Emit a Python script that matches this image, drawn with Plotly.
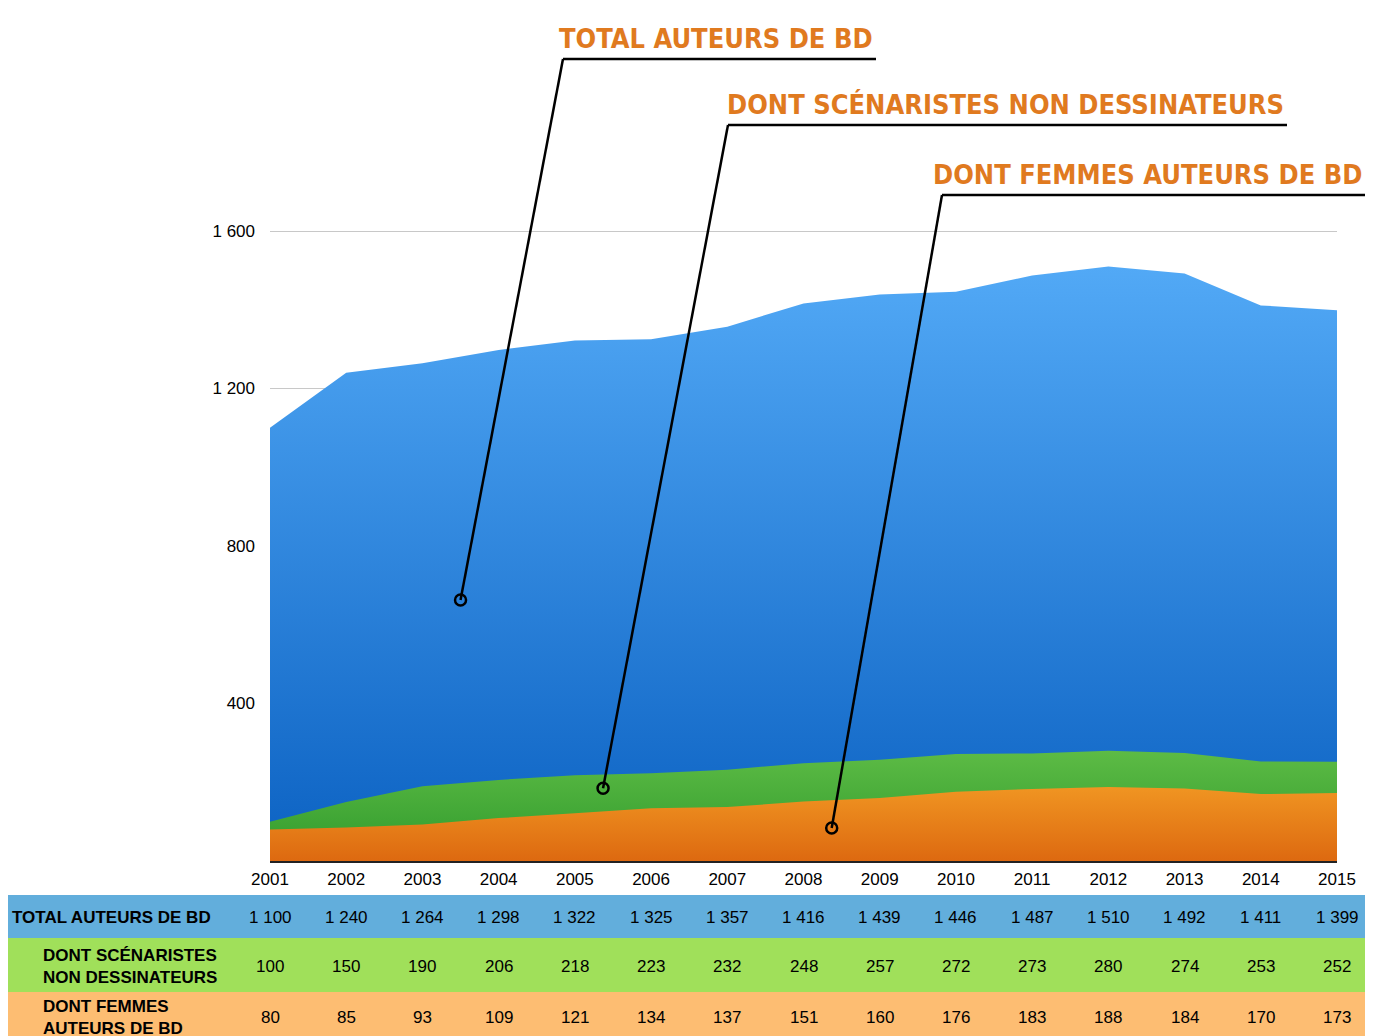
import plotly.graph_objects as go

years = list(range(2001, 2016))
total_auteurs = [1100, 1240, 1264, 1298, 1322, 1325, 1357, 1416, 1439, 1446, 1487, 1510, 1492, 1411, 1399]
scenaristes = [100, 150, 190, 206, 218, 223, 232, 248, 257, 272, 273, 280, 274, 253, 252]
femmes = [80, 85, 93, 109, 121, 134, 137, 151, 160, 176, 183, 188, 184, 170, 173]

row_labels = ["TOTAL AUTEURS DE BD", "DONT SCÉNARISTES<br>NON DESSINATEURS", "DONT FEMMES<br>AUTEURS DE BD"]
callout_labels = ["TOTAL AUTEURS DE BD", "DONT SCÉNARISTES NON DESSINATEURS", "DONT FEMMES AUTEURS DE BD"]
y_ticks = [400, 800, 1200, 1600]

# Page geometry: the figure sits 8px in from the page corner (body margin)
OFF = 8
W, H = 1373 - OFF, 1036 - OFF
L, R = 270 - OFF, 1373 - 1337
PH = 640
B = H - (861 - OFF)
T = H - B - PH
PW = W - L - R
Y_TOP = 1600 * PH / 630  # 1600 lands at page y=231
VISIBLE_RIGHT = 1364     # page pixels beyond this are cut off


def px_x(px):
    return (px - OFF - L) / PW


def px_y(py):
    return (H - B - (py - OFF)) / PH


def fmt(v):
    return f"{v:,}".replace(",", " ")


fig = go.Figure()

# Overlapping areas, each filled down to zero with a vertical gradient
series = [
    (total_auteurs, [[0, "#0B61C2"], [1, "#52A9F6"]], 1510),
    (scenaristes, [[0, "#2F9A2C"], [1, "#5DBB45"]], 280),
    (femmes, [[0, "#DD6910"], [1, "#F09522"]], 188),
]
for values, scale, top in series:
    fig.add_trace(go.Scatter(
        x=years, y=values, mode="none", fill="tozeroy",
        fillgradient=dict(type="vertical", colorscale=scale, start=0, stop=top),
        hoverinfo="x+y", showlegend=False,
    ))

# Callouts: title, underline, leader line and circle on the area
callouts = [
    (callout_labels[0], 563, 876, 59, 2003.5, 663),
    (callout_labels[1], 728, 1287, 125, 2005.37, 185),
    (callout_labels[2], 942, 1373, 195, 2008.37, 84),
]
shapes = []
annotations = []
for label, x0, x1, uy, px_year, py_val in callouts:
    end_x = (px_year - years[0]) / (years[-1] - years[0])
    end_y = py_val / Y_TOP
    shapes.append(dict(type="line", xref="paper", yref="paper",
                       x0=px_x(x0), x1=px_x(x1), y0=px_y(uy), y1=px_y(uy),
                       line=dict(color="black", width=2.5)))
    shapes.append(dict(type="line", xref="paper", yref="paper",
                       x0=px_x(x0), y0=px_y(uy), x1=end_x, y1=end_y,
                       line=dict(color="black", width=2.5)))
    annotations.append(dict(text=label, xref="paper", yref="paper",
                            x=px_x(min(x1 - 1, VISIBLE_RIGHT)), y=px_y(uy - 3),
                            xanchor="right", yanchor="bottom", showarrow=False,
                            font=dict(family="DejaVu Sans Condensed, sans-serif",
                                      size=27, color="#E07A1F", weight="bold")))
    fig.add_trace(go.Scatter(x=[px_year], y=[py_val], mode="markers",
                             marker=dict(symbol="circle-open", size=11, color="black",
                                         line=dict(width=2.5, color="black")),
                             hoverinfo="skip", showlegend=False))

# Table under the chart
rows = [
    (row_labels[0], total_auteurs, "#62AEDC", 895, 938, 12, 917),
    (row_labels[1], scenaristes, "#A0E05A", 938, 992, 43, 966),
    (row_labels[2], femmes, "#FDBD72", 992, 1045, 43, 1017),
]
for label, values, color, top, bottom, lx, cy in rows:
    shapes.append(dict(type="rect", xref="paper", yref="paper",
                       x0=px_x(8), x1=px_x(1380), y0=px_y(bottom), y1=px_y(top),
                       fillcolor=color, line=dict(width=0), layer="below"))
    annotations.append(dict(text=f"<b>{label}</b>", xref="paper", yref="paper",
                            x=px_x(lx - 2), y=px_y(cy), xanchor="left", yanchor="middle",
                            align="left", showarrow=False,
                            font=dict(family="Liberation Sans, Arial, sans-serif", size=17, color="black")))
    for yr, v in zip(years, values):
        annotations.append(dict(text=fmt(v), xref="x", yref="paper",
                                x=yr, y=px_y(cy), xanchor="center", yanchor="middle",
                                showarrow=False,
                                font=dict(family="Liberation Sans, Arial, sans-serif", size=17, color="black")))

fig.update_layout(
    width=W, height=H,
    margin=dict(l=L, r=R, t=T, b=B, pad=0),
    paper_bgcolor="white", plot_bgcolor="white",
    separators=", ",
    font=dict(family="Liberation Sans, Arial, sans-serif", size=17, color="black"),
    shapes=shapes, annotations=annotations,
    xaxis=dict(range=[years[0], years[-1]], tickvals=years, ticktext=[str(y) for y in years],
               showgrid=False, zeroline=False, showline=True, linecolor="#222", linewidth=2,
               ticks="", ticklabelstandoff=2),
    yaxis=dict(range=[0, Y_TOP], tickvals=y_ticks, ticktext=[fmt(v) for v in y_ticks],
               showgrid=True, gridcolor="#C8C8C8", gridwidth=1, zeroline=False,
               showline=False, ticks="", ticklabelstandoff=14),
)

fig.write_html("out.html")
